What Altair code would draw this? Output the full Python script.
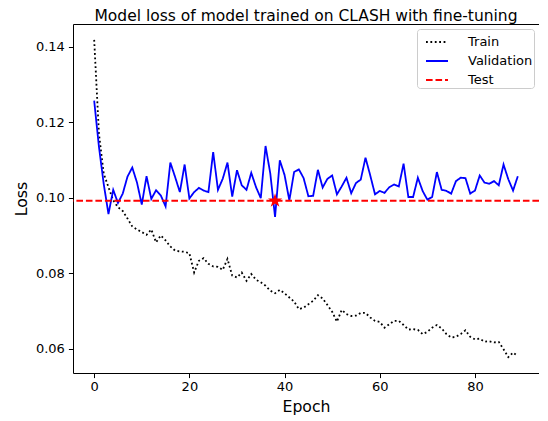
import altair as alt
import pandas as pd

epochs = list(range(90))
train_loss = [
    0.1418, 0.1170, 0.1064, 0.1028, 0.0993, 0.0975, 0.0965, 0.0945, 0.0924, 0.0916,
    0.0909, 0.0902, 0.0916, 0.0882, 0.0900, 0.0887, 0.0871, 0.0860, 0.0858, 0.0857,
    0.0853, 0.0802, 0.0833, 0.0840, 0.0825, 0.0818, 0.0817, 0.0809, 0.0838, 0.0794,
    0.0789, 0.0802, 0.0780, 0.0798, 0.0783, 0.0776, 0.0767, 0.0754, 0.0747, 0.0756,
    0.0747, 0.0736, 0.0725, 0.0705, 0.0709, 0.0718, 0.0727, 0.0742, 0.0733, 0.0716,
    0.0698, 0.0672, 0.0703, 0.0692, 0.0687, 0.0688, 0.0695, 0.0695, 0.0683, 0.0674,
    0.0671, 0.0656, 0.0665, 0.0674, 0.0674, 0.0663, 0.0651, 0.0652, 0.0650, 0.0639,
    0.0645, 0.0656, 0.0663, 0.0654, 0.0639, 0.0630, 0.0632, 0.0639, 0.0649, 0.0632,
    0.0625, 0.0627, 0.0619, 0.0620, 0.0617, 0.0618, 0.0599, 0.0578, 0.0590, 0.0581,
]
val_loss = [
    0.1257, 0.1135, 0.1037, 0.0957, 0.1021, 0.0986, 0.1011, 0.1056, 0.1080, 0.1040,
    0.0982, 0.1057, 0.0997, 0.1020, 0.1006, 0.0977, 0.1093, 0.1055, 0.1015, 0.1088,
    0.0998, 0.1015, 0.1026, 0.1019, 0.1015, 0.1121, 0.1021, 0.1050, 0.1093, 0.1003,
    0.1073, 0.1033, 0.1021, 0.1066, 0.1028, 0.0999, 0.1137, 0.1064, 0.0949, 0.1099,
    0.1060, 0.0993, 0.1068, 0.1075, 0.1052, 0.1004, 0.1005, 0.1074, 0.1027, 0.1050,
    0.1059, 0.1009, 0.1030, 0.1053, 0.1012, 0.1039, 0.1048, 0.1106, 0.1059, 0.1009,
    0.1018, 0.1013, 0.1028, 0.1035, 0.1030, 0.1090, 0.1002, 0.1002, 0.1053, 0.1018,
    0.0995, 0.1002, 0.1068, 0.1021, 0.1018, 0.1011, 0.1044, 0.1053, 0.1052, 0.1011,
    0.1019, 0.1059, 0.1040, 0.1037, 0.1044, 0.1033, 0.1088, 0.1049, 0.1019, 0.1057,
]
test_loss = [0.0992]
best_epoch = [38]

series_names = ["Train", "Validation", "Test"]
series_colors = ["#000000", "#0000ff", "#ff0000"]
series_dashes = [[1.8, 2.6], [1, 0], [6.6, 2.9]]
title_text = "Model loss of model trained on CLASH with fine-tuning"
x_ticks = [0, 20, 40, 60, 80]
y_ticks = [0.06, 0.08, 0.10, 0.12, 0.14]

FONT = "DejaVu Sans"
STAR_PATH = ("M0,-1L0.2245,-0.309L0.9511,-0.309L0.3633,0.118L0.5878,0.809L0,0.382"
             "L-0.5878,0.809L-0.3633,0.118L-0.9511,-0.309L-0.2245,-0.309Z")

lines_df = pd.DataFrame({
    "epoch": epochs + epochs,
    "loss": train_loss + val_loss,
    "series": ["Train"] * len(epochs) + ["Validation"] * len(epochs),
})
test_df = pd.DataFrame({"loss": test_loss, "series": ["Test"] * len(test_loss)})
star_df = pd.DataFrame({"epoch": best_epoch, "loss": test_loss})

x_scale = alt.Scale(domain=[-4.45, 93.45], nice=False, zero=False)
y_scale = alt.Scale(domain=[0.0536, 0.146], nice=False, zero=False)
color_scale = alt.Scale(domain=series_names, range=series_colors)
dash_scale = alt.Scale(domain=series_names, range=series_dashes)

x_axis = alt.Axis(values=x_ticks, format="d", title="Epoch", grid=False, domain=False,
                  tickColor="black", tickSize=4.6, tickWidth=1, labelFontSize=13,
                  labelFont=FONT, labelColor="black", labelPadding=3,
                  titleFont=FONT, titleFontSize=15.7, titleFontWeight="normal",
                  titleColor="black", titlePadding=6)
y_axis = alt.Axis(values=y_ticks, format=".2f", title="Loss", grid=False, domain=False,
                  tickColor="black", tickSize=4.6, tickWidth=1, labelFontSize=13,
                  labelFont=FONT, labelColor="black", labelPadding=4,
                  titleFont=FONT, titleFontSize=15.7, titleFontWeight="normal",
                  titleColor="black", titlePadding=6)

legend = alt.Legend(orient="top-right", offset=5, symbolType="stroke", symbolSize=484,
                    symbolStrokeWidth=1.8, symbolOffset=7, labelFont=FONT,
                    labelFontSize=13, labelColor="black", fillColor="white",
                    strokeColor="#cccccc", cornerRadius=3, padding=1, rowPadding=-2,
                    labelOffset=19)

color_enc = alt.Color("series:N", scale=color_scale, legend=legend, title=None)
dash_enc = alt.StrokeDash("series:N", scale=dash_scale, legend=legend, title=None)

line_layer = alt.Chart(lines_df).mark_line(strokeWidth=1.8).encode(
    x=alt.X("epoch:Q", scale=x_scale, axis=x_axis),
    y=alt.Y("loss:Q", scale=y_scale, axis=y_axis),
    color=color_enc,
    strokeDash=dash_enc,
)

test_layer = alt.Chart(test_df).mark_rule(strokeWidth=1.8).encode(
    y=alt.Y("loss:Q", scale=y_scale),
    color=color_enc,
    strokeDash=dash_enc,
)

star_layer = alt.Chart(star_df).mark_point(shape=STAR_PATH, filled=True, size=220,
                                           opacity=1, color="#ff0000").encode(
    x=alt.X("epoch:Q", scale=x_scale),
    y=alt.Y("loss:Q", scale=y_scale),
)

chart = alt.layer(line_layer, test_layer, star_layer).properties(
    width=466,
    height=349,
    autosize=alt.AutoSizeParams(type="none"),
    padding={"left": 65, "top": 16, "right": 0, "bottom": 42},
    title=alt.TitleParams(text=title_text, font=FONT, fontSize=15.5,
                          fontWeight="normal", color="black", anchor="middle",
                          offset=0),
).configure_view(stroke="black", strokeWidth=1)

chart.save("out.html", embed_options={"renderer": "svg", "actions": False})
